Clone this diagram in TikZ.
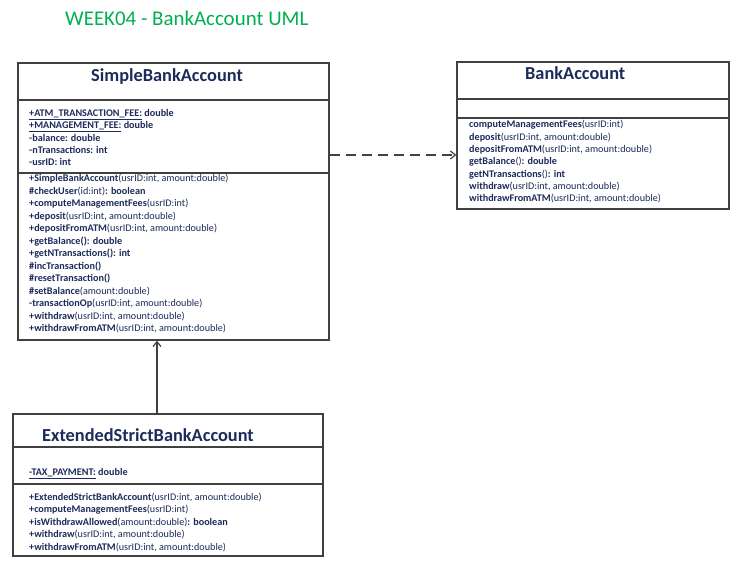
\documentclass[tikz,border=0pt]{standalone}
\usepackage{fontspec}
\setmainfont{Carlito}
\usetikzlibrary{arrows.meta}
\definecolor{umltext}{HTML}{1C2B5A}
\definecolor{umlline}{HTML}{404040}
\definecolor{umlgreen}{HTML}{00B050}
\tikzset{
  classbox/.style={draw=umlline, line width=1.3bp, inner sep=0pt, fill=white},
  divider/.style={draw=umlline, line width=1.3bp},
  classtitle/.style={anchor=mid west, inner sep=0pt, yshift=-3bp, text=umltext, font=\fontsize{18.4}{22}\selectfont\bfseries},
  row/.style={anchor=mid west, inner sep=0pt, yshift=-1.2bp, text=umltext, font=\fontsize{10.2}{12}\selectfont},
  dep/.style={draw=umlline, line width=1.2bp, dash pattern=on 10bp off 6bp, -{Straight Barb[length=5bp,width=8bp,line width=1.2bp]}},
  gen/.style={draw=umlline, line width=1.2bp, -{Straight Barb[length=5bp,width=8bp,line width=1.2bp]}},
}
\newcommand{\bm}[1]{\textbf{#1}}
\begin{document}
\begin{tikzpicture}[x=1bp,y=-1bp]
\useasboundingbox (0,0) rectangle (745,565);
% page title
\node[anchor=mid west, inner sep=0pt, yshift=-3bp, text=umlgreen, font=\fontsize{21}{25}\selectfont] (pagetitle) at (65,20.5) {WEEK04 - BankAccount UML};

% ---- SimpleBankAccount
\node[classbox, minimum width=311bp, minimum height=277bp] (sba) at ({(18+329)/2},{(63+340)/2}) {};
\draw[divider] (18,100) -- (329,100);
\draw[divider] (18,173) -- (329,173);
\node[classtitle] (sbat) at (91,76) {SimpleBankAccount};
\node[row] (s1) at (29,112.7) {\bm{\underline{+ATM\_TRANSACTION\_FEE:}} \bm{double}};
\node[row] (s2) at (29,125.2) {\bm{\underline{+MANAGEMENT\_FEE:}} \bm{double}};
\node[row] (s3) at (29,137.6) {\bm{-balance: double}};
\node[row] (s4) at (29,150.0) {\bm{-nTransactions: int}};
\node[row] (s5) at (29,162.4) {\bm{-usrID: int}};
\node[row] (m1) at (29,178.4) {\bm{+SimpleBankAccount}(usrID:int, amount:double)};
\node[row] (m2) at (29,190.9) {\bm{\#checkUser}(id:int)\bm{: boolean}};
\node[row] (m3) at (29,203.3) {\bm{+computeManagementFees}(usrID:int)};
\node[row] (m4) at (29,215.8) {\bm{+deposit}(usrID:int, amount:double)};
\node[row] (m5) at (29,228.3) {\bm{+depositFromATM}(usrID:int, amount:double)};
\node[row] (m6) at (29,240.8) {\bm{+getBalance(): double}};
\node[row] (m7) at (29,253.2) {\bm{+getNTransactions(): int}};
\node[row] (m8) at (29,265.7) {\bm{\#incTransaction()}};
\node[row] (m9) at (29,278.1) {\bm{\#resetTransaction()}};
\node[row] (m10) at (29,290.6) {\bm{\#setBalance}(amount:double)};
\node[row] (m11) at (29,303.1) {\bm{-transactionOp}(usrID:int, amount:double)};
\node[row] (m12) at (29,315.6) {\bm{+withdraw}(usrID:int, amount:double)};
\node[row] (m13) at (29,328.0) {\bm{+withdrawFromATM}(usrID:int, amount:double)};

% ---- BankAccount
\node[classbox, minimum width=272bp, minimum height=147bp] (ba) at ({(457+729)/2},{(62+209)/2}) {};
\draw[divider] (457,99) -- (729,99);
\draw[divider] (457,118) -- (729,118);
\node[classtitle] (bat) at (525,74) {BankAccount};
\node[row] (b1) at (469,124.3) {\bm{computeManagementFees}(usrID:int)};
\node[row] (b2) at (469,136.6) {\bm{deposit}(usrID:int, amount:double)};
\node[row] (b3) at (469,148.9) {\bm{depositFromATM}(usrID:int, amount:double)};
\node[row] (b4) at (469,161.2) {\bm{getBalance}()\bm{: double}};
\node[row] (b5) at (469,173.5) {\bm{getNTransactions}()\bm{: int}};
\node[row] (b6) at (469,185.8) {\bm{withdraw}(usrID:int, amount:double)};
\node[row] (b7) at (469,198.1) {\bm{withdrawFromATM}(usrID:int, amount:double)};

% ---- ExtendedStrictBankAccount
\node[classbox, minimum width=310bp, minimum height=142bp] (esba) at ({(13+323)/2},{(414+556)/2}) {};
\draw[divider] (13,447) -- (323,447);
\draw[divider] (13,484) -- (323,484);
\node[classtitle] (esbat) at (42,436) {ExtendedStrictBankAccount};
\node[row] (e1) at (29,472.3) {\bm{\underline{-TAX\_PAYMENT:}} \bm{double}};
\node[row] (e2) at (29,496.7) {\bm{+ExtendedStrictBankAccount}(usrID:int, amount:double)};
\node[row] (e3) at (29,509.1) {\bm{+computeManagementFees}(usrID:int)};
\node[row] (e4) at (29,521.6) {\bm{+isWithdrawAllowed}(amount:double)\bm{: boolean}};
\node[row] (e5) at (29,534.0) {\bm{+withdraw}(usrID:int, amount:double)};
\node[row] (e6) at (29,546.5) {\bm{+withdrawFromATM}(usrID:int, amount:double)};

% ---- connectors
\draw[dep] (sba.east |- 0,155) -- (ba.west |- 0,155);
\draw[gen] (esba.north -| 157,0) -- (sba.south -| 157,0);
\end{tikzpicture}
\end{document}
